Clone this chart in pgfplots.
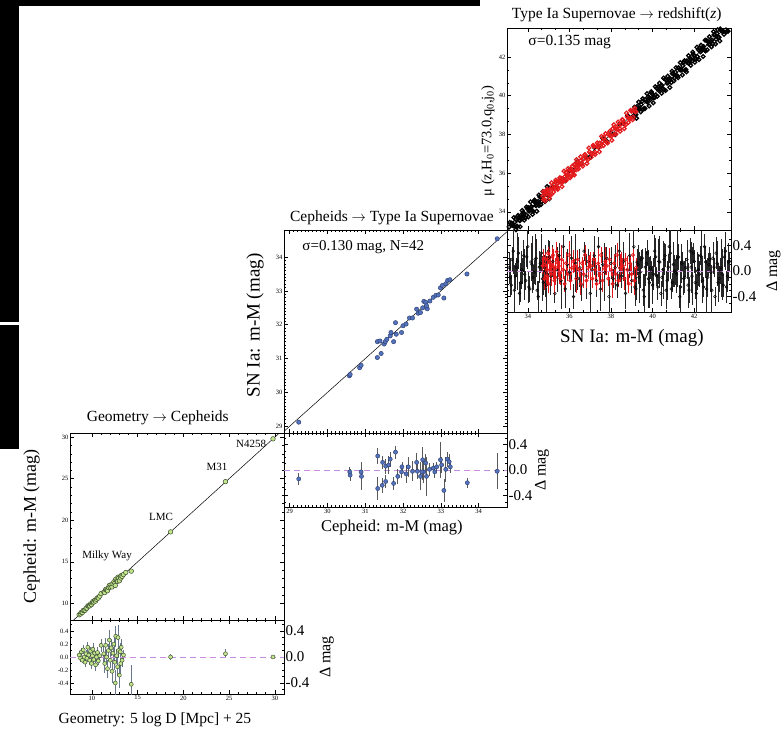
\documentclass[border=0pt]{standalone}
\usepackage{pgfplots}
\usepackage{pgfplotstable}
\pgfplotsset{compat=1.18}
\usepackage{fontspec}
\setmainfont{Liberation Serif}

\definecolor{grfill}{HTML}{C2E68C}
\definecolor{grline}{HTML}{3A4A2E}
\definecolor{grerr}{HTML}{66788A}
\definecolor{blfill}{HTML}{5272BC}
\definecolor{blline}{HTML}{2C3C6C}
\definecolor{snred}{HTML}{E3191B}
\definecolor{dashv}{HTML}{C98BDB}

\newcommand{\fs}[1]{\fontsize{#1}{#1}\selectfont}

\pgfplotsset{
  base/.style={
    scale only axis, anchor=south west,
    axis line style={line width=0.8pt},
    tick style={black, line width=0.5pt},
    major tick length=4pt, minor tick length=2.2pt,
    tick align=inside,
    xtick pos=both, ytick pos=both,
    ticklabel style={font=\fs{6.5}, inner sep=1.5pt},
    /pgf/number format/assume math mode=true,
  },
  resid/.style={
    ytick={-0.4,0,0.4},
    minor ytick={-0.5,-0.3,-0.2,-0.1,0.1,0.2,0.3,0.5},
    yticklabel pos=right,
    ylabel={Δ mag},
    yticklabel style={font=\fs{15}, /pgf/number format/.cd, fixed, fixed zerofill, precision=1},
  },
}

% ---------------- Panel 1: Geometry -> Cepheids ----------------
\pgfplotstableread{
x y
8.60 8.63
8.75 8.73
8.85 8.93
8.95 8.90
9.05 9.16
9.15 9.15
9.25 9.17
9.35 9.40
9.45 9.43
9.55 9.70
9.65 9.68
9.75 9.70
9.85 9.94
9.95 9.85
10.05 10.07
10.10 10.22
10.20 10.16
10.30 10.36
10.40 10.28
10.50 10.50
10.60 10.67
10.70 10.64
10.85 10.87
11.00 11.18
11.30 11.35
11.40 11.30
11.50 11.68
11.60 11.60
11.70 11.52
11.80 11.90
11.90 12.16
12.00 11.95
12.10 12.24
12.20 11.98
12.30 12.36
12.40 12.60
12.50 12.42
12.55 12.15
12.60 12.92
12.70 12.72
12.80 12.65
12.85 13.15
12.90 13.00
13.00 12.72
13.10 13.18
13.15 13.05
13.20 13.35
13.30 13.25
13.45 13.48
13.70 13.72
14.30 13.88
18.60 18.60
24.60 24.65
29.80 29.80
}\gmain

\pgfplotstableread{
x r e
8.60 0.03 0.04
8.75 -0.02 0.05
8.85 0.08 0.06
8.95 -0.05 0.05
9.05 0.11 0.07
9.15 0.00 0.05
9.25 -0.08 0.08
9.35 0.05 0.06
9.45 -0.02 0.05
9.55 0.15 0.08
9.65 0.03 0.06
9.75 -0.05 0.07
9.85 0.09 0.06
9.95 -0.10 0.08
10.05 0.02 0.05
10.10 0.12 0.09
10.20 -0.04 0.06
10.30 0.06 0.07
10.40 -0.12 0.09
10.50 0.00 0.06
10.60 0.07 0.08
10.70 -0.06 0.07
10.85 0.02 0.06
11.00 0.18 0.10
11.30 0.05 0.12
11.40 -0.10 0.15
11.50 0.18 0.12
11.60 0.00 0.10
11.70 -0.18 0.14
11.80 0.10 0.10
11.90 0.26 0.15
12.00 -0.05 0.12
12.10 0.14 0.13
12.20 -0.22 0.18
12.30 0.06 0.10
12.40 0.20 0.14
12.50 -0.08 0.12
12.55 -0.40 0.20
12.60 0.32 0.16
12.70 0.02 0.10
12.80 -0.15 0.15
12.85 0.30 0.20
12.90 0.10 0.12
13.00 -0.28 0.20
13.10 0.08 0.14
13.15 -0.10 0.16
13.20 0.15 0.12
13.30 -0.05 0.10
13.45 0.03 0.08
14.30 -0.42 0.30
18.60 0.00 0.04
24.60 0.05 0.07
29.80 0.00 0.03
}\gres

% ---------------- Panel 2: Cepheids -> SN Ia ----------------
\pgfplotstableread{
x y
29.24 29.12
30.58 30.49
30.60 30.53
30.85 30.73
30.89 30.80
31.32 31.03
31.42 31.15
31.32 31.50
31.39 31.52
31.50 31.43
31.53 31.50
31.57 31.57
31.66 31.67
31.68 31.77
31.75 31.50
31.82 31.72
31.80 32.06
32.00 31.97
32.08 32.02
32.17 32.20
32.25 32.20
32.36 32.46
32.40 32.34
32.46 32.36
32.52 32.50
32.55 32.69
32.60 32.66
32.64 32.47
32.62 32.56
32.80 32.81
32.87 32.87
32.93 32.88
32.99 33.09
33.04 33.16
33.08 32.79
33.13 33.21
33.18 33.31
33.24 33.33
33.69 33.50
34.49 34.54
32.71 32.70
31.96 31.77
}\bmain

\pgfplotstableread{
x r e
29.24 -0.14 0.10
30.59 -0.03 0.08
30.60 -0.08 0.10
30.89 -0.03 0.10
30.90 -0.10 0.22
31.33 0.22 0.12
31.33 -0.29 0.18
31.45 -0.24 0.12
31.46 0.12 0.10
31.54 0.06 0.12
31.54 -0.18 0.10
31.62 0.08 0.14
31.66 0.17 0.12
31.75 -0.21 0.10
31.80 0.28 0.10
31.86 -0.10 0.12
31.97 0.05 0.08
32.08 -0.06 0.14
32.14 0.05 0.16
32.25 -0.02 0.16
32.36 0.12 0.14
32.38 -0.02 0.12
32.46 -0.10 0.22
32.52 0.16 0.20
32.55 -0.03 0.18
32.60 0.11 0.14
32.62 -0.10 0.30
32.80 0.03 0.08
32.84 -0.03 0.10
32.89 0.05 0.08
32.99 0.16 0.28
33.02 0.08 0.12
33.08 -0.32 0.18
33.13 0.01 0.20
33.17 0.17 0.12
33.22 0.13 0.12
33.25 0.05 0.10
33.70 -0.20 0.08
34.49 -0.02 0.28
32.50 -0.03 0.12
32.70 0.01 0.10
31.96 -0.03 0.10
}\bres

% ---------------- Panel 3: SN Ia -> redshift ----------------
\pgfplotstableread{
x y
33.10 33.22
33.18 33.00
33.26 33.31
33.34 33.27
33.42 33.64
33.50 33.25
33.58 33.58
33.66 33.81
33.74 33.64
33.82 33.90
33.90 33.70
33.98 34.16
34.06 34.03
34.14 34.24
34.22 34.07
34.30 34.55
34.38 34.33
34.46 34.48
34.54 34.32
34.62 34.76
34.70 34.82
34.78 34.60
34.86 34.91
34.94 34.87
35.02 35.24
33.14 33.02
33.22 33.42
33.30 33.28
33.38 33.47
33.46 33.22
33.54 33.70
33.62 33.54
33.70 33.73
33.78 33.97
33.86 33.72
33.94 33.82
34.02 34.22
34.10 34.08
34.18 34.27
34.26 34.02
34.34 34.50
34.42 34.34
34.50 34.53
34.58 34.77
34.66 34.52
34.74 34.62
34.82 35.02
35.20 35.30
35.40 35.25
35.60 35.65
35.80 35.60
36.00 36.15
36.20 36.12
36.40 36.62
36.60 36.48
36.80 36.84
37.00 36.82
37.20 37.32
37.40 37.35
37.60 37.80
37.80 37.65
38.00 38.08
38.20 37.98
38.40 38.54
38.60 38.58
38.80 38.98
39.00 38.88
39.10 39.22
39.20 39.02
39.30 39.35
39.40 39.33
39.50 39.72
39.60 39.35
39.70 39.70
39.80 39.95
39.90 39.80
40.00 40.08
40.10 39.90
40.20 40.38
40.30 40.27
40.40 40.50
40.50 40.35
40.60 40.85
40.70 40.65
40.80 40.82
40.90 40.68
41.00 41.14
41.10 41.22
41.20 41.02
41.30 41.35
41.40 41.33
41.50 41.72
41.60 41.35
41.70 41.70
41.80 41.95
41.90 41.80
42.00 42.08
42.10 41.90
42.20 42.38
42.30 42.27
42.40 42.50
42.50 42.35
42.60 42.85
42.70 42.65
42.80 42.82
42.90 42.68
43.00 43.14
43.10 43.22
43.20 43.02
43.30 43.35
43.40 43.33
43.50 43.72
43.60 43.35
43.70 43.70
39.15 39.03
39.25 39.45
39.35 39.33
39.45 39.54
39.55 39.31
39.65 39.81
39.75 39.67
39.85 39.88
39.95 40.14
40.05 39.91
40.15 40.03
40.25 40.45
40.35 40.33
40.45 40.54
40.55 40.31
40.65 40.81
40.75 40.67
40.85 40.88
40.95 41.14
41.05 40.91
41.15 41.03
41.25 41.45
41.35 41.33
41.45 41.54
41.55 41.31
41.65 41.81
41.75 41.67
41.85 41.88
41.95 42.14
42.05 41.91
42.15 42.03
42.25 42.45
42.35 42.33
42.45 42.54
42.55 42.31
42.65 42.81
42.75 42.67
42.85 42.88
42.95 43.14
43.05 42.91
43.15 43.03
43.25 43.45
43.35 43.33
43.45 43.54
43.55 43.31
43.65 43.81
33.13 33.45
33.23 32.93
33.33 33.71
33.43 33.07
33.53 33.81
33.63 33.23
33.73 34.07
33.83 33.57
33.93 34.25
34.03 33.73
34.13 34.51
34.23 33.87
34.33 34.61
34.43 34.03
34.53 34.87
34.63 34.37
34.73 35.05
34.83 34.53
34.93 35.31
35.03 34.67
39.13 39.41
39.23 38.83
39.33 39.67
39.43 39.17
39.53 39.85
39.63 39.33
39.73 40.11
39.83 39.47
39.93 40.21
40.03 39.63
40.13 40.47
40.23 39.97
40.33 40.65
40.43 40.13
40.53 40.91
40.63 40.27
40.73 41.01
40.83 40.43
40.93 41.27
41.03 40.77
41.13 41.45
41.23 40.93
41.33 41.71
41.43 41.07
41.53 41.81
41.63 41.23
41.73 42.07
41.83 41.57
41.93 42.25
42.03 41.73
42.13 42.51
42.23 41.87
42.33 42.61
42.43 42.03
42.53 42.87
42.63 42.37
42.73 43.05
42.83 42.53
42.93 43.31
43.03 42.67
43.13 43.41
43.23 42.83
43.33 43.67
43.43 43.17
43.53 43.85
43.63 43.33
}\kmain

\pgfplotstableread{
x y
34.72 34.82
34.79 34.65
34.86 34.90
34.93 35.11
35.00 34.94
35.07 34.87
35.14 35.27
35.21 35.21
35.28 35.18
35.35 35.56
35.42 35.26
35.49 35.56
35.56 35.53
35.63 35.73
35.70 35.56
35.77 35.81
35.84 36.02
35.91 35.85
35.98 35.78
36.05 36.18
36.12 36.12
36.19 36.09
36.26 36.47
36.33 36.17
36.40 36.47
36.47 36.44
36.54 36.64
36.61 36.47
36.68 36.72
36.75 36.93
36.82 36.76
36.89 36.69
36.96 37.09
37.03 37.03
37.10 37.00
37.17 37.38
37.24 37.08
37.31 37.38
37.38 37.35
37.45 37.55
37.52 37.38
37.59 37.63
37.66 37.84
37.73 37.67
37.80 37.60
37.87 38.00
37.94 37.94
38.01 37.91
38.08 38.29
38.15 37.99
38.22 38.29
38.29 38.26
38.36 38.46
38.43 38.29
38.50 38.54
38.57 38.75
38.64 38.58
38.71 38.51
38.78 38.91
38.85 38.85
38.92 38.82
38.99 39.20
39.06 38.90
39.13 39.20
39.20 39.17
34.75 34.63
34.85 35.05
34.95 34.93
35.05 35.14
35.15 34.91
35.25 35.41
35.35 35.27
35.45 35.48
35.55 35.74
35.65 35.51
35.75 35.63
35.85 36.05
35.95 35.93
36.05 36.14
36.15 35.91
36.25 36.41
36.35 36.27
36.45 36.48
34.74 35.04
34.84 34.56
34.94 35.16
35.04 34.70
35.14 35.50
35.24 35.02
35.34 35.64
35.44 35.16
35.54 35.76
35.64 35.30
35.74 36.10
35.84 35.62
35.94 36.24
36.04 35.76
36.14 36.36
36.24 35.90
36.34 36.70
36.44 36.22
36.54 36.84
36.64 36.36
36.74 36.96
36.84 36.50
36.94 37.30
37.04 36.82
37.14 37.44
37.24 36.96
37.34 37.56
37.44 37.10
37.54 37.90
37.64 37.42
37.74 38.04
37.84 37.56
37.94 38.16
38.04 37.70
38.14 38.50
38.24 38.02
38.34 38.64
38.44 38.16
38.54 38.76
38.64 38.30
38.74 39.10
38.84 38.62
38.94 39.24
39.04 38.76
39.14 39.36
}\rmain

\pgfplotstableread{
x r e
33.1 0.05 0.25
33.2 -0.22 0.15
33.3 0.31 0.35
33.4 -0.08 0.20
33.5 0.15 0.45
33.6 -0.35 0.18
33.7 0.02 0.30
33.8 0.24 0.25
33.9 -0.15 0.15
34.0 0.38 0.35
34.1 -0.28 0.20
34.2 0.10 0.45
34.3 -0.02 0.18
34.4 0.20 0.30
34.5 -0.40 0.25
34.6 0.12 0.15
34.7 -0.12 0.35
34.8 0.05 0.20
34.9 -0.22 0.45
35.0 0.31 0.18
35.1 -0.08 0.30
35.2 0.15 0.25
35.3 -0.35 0.15
35.4 0.02 0.35
35.5 0.24 0.20
35.6 -0.15 0.45
35.7 0.38 0.18
35.8 -0.28 0.30
35.9 0.10 0.25
36.0 -0.02 0.15
36.1 0.20 0.35
36.2 -0.40 0.20
36.3 0.12 0.45
36.4 -0.12 0.18
36.5 0.05 0.30
36.6 -0.22 0.25
36.7 0.31 0.15
36.8 -0.08 0.35
36.9 0.15 0.20
37.0 -0.35 0.45
37.1 0.02 0.18
37.2 0.24 0.30
37.3 -0.15 0.25
37.4 0.38 0.15
37.5 -0.28 0.35
37.6 0.10 0.20
37.7 -0.02 0.45
37.8 0.20 0.18
37.9 -0.40 0.30
38.0 0.12 0.25
38.1 -0.12 0.15
38.2 0.05 0.35
38.3 -0.22 0.20
38.4 0.31 0.45
38.5 -0.08 0.18
38.6 0.15 0.30
38.7 -0.35 0.25
38.8 0.02 0.15
38.9 0.24 0.35
39.0 -0.15 0.20
39.1 0.38 0.45
39.2 -0.28 0.18
39.3 0.10 0.30
39.4 -0.02 0.25
39.5 0.20 0.15
39.6 -0.40 0.35
39.7 0.12 0.20
39.8 -0.12 0.45
39.9 0.05 0.18
40.0 -0.22 0.30
40.1 0.31 0.25
40.2 -0.08 0.15
40.3 0.15 0.35
40.4 -0.35 0.20
40.5 0.02 0.45
40.6 0.24 0.18
40.7 -0.15 0.30
40.8 0.38 0.25
40.9 -0.28 0.15
41.0 0.10 0.35
41.1 -0.02 0.20
41.2 0.20 0.45
41.3 -0.40 0.18
41.4 0.12 0.30
41.5 -0.12 0.25
41.6 0.05 0.15
41.7 -0.22 0.35
41.8 0.31 0.20
41.9 -0.08 0.45
42.0 0.15 0.18
42.1 -0.35 0.30
42.2 0.02 0.25
42.3 0.24 0.15
42.4 -0.15 0.35
42.5 0.38 0.20
42.6 -0.28 0.45
42.7 0.10 0.18
42.8 -0.02 0.30
42.9 0.20 0.25
43.0 -0.40 0.15
43.1 0.12 0.35
43.2 -0.12 0.20
43.3 0.05 0.45
43.4 -0.22 0.18
43.5 0.31 0.30
43.6 -0.08 0.25
43.7 0.15 0.15
33.15 -0.10 0.30
33.25 0.18 0.20
33.35 -0.30 0.40
33.45 0.06 0.15
33.55 0.28 0.25
33.65 -0.18 0.30
33.75 0.00 0.20
33.85 -0.05 0.40
33.95 0.22 0.15
34.05 -0.25 0.25
34.15 0.14 0.30
34.25 -0.10 0.20
34.35 0.18 0.40
34.45 -0.30 0.15
34.55 0.06 0.25
34.65 0.28 0.30
34.75 -0.18 0.20
34.85 0.00 0.40
34.95 -0.05 0.15
35.05 0.22 0.25
39.15 -0.25 0.30
39.25 0.14 0.20
39.35 -0.10 0.40
39.45 0.18 0.15
39.55 -0.30 0.25
39.65 0.06 0.30
39.75 0.28 0.20
39.85 -0.18 0.40
39.95 0.00 0.15
40.05 -0.05 0.25
40.15 0.22 0.30
40.25 -0.25 0.20
40.35 0.14 0.40
40.45 -0.10 0.15
40.55 0.18 0.25
40.65 -0.30 0.30
40.75 0.06 0.20
40.85 0.28 0.40
40.95 -0.18 0.15
41.05 0.00 0.25
41.15 -0.05 0.30
41.25 0.22 0.20
41.35 -0.25 0.40
41.45 0.14 0.15
41.55 -0.10 0.25
41.65 0.18 0.30
41.75 -0.30 0.20
41.85 0.06 0.40
41.95 0.28 0.15
42.05 -0.18 0.25
42.15 0.00 0.30
42.25 -0.05 0.20
42.35 0.22 0.40
42.45 -0.25 0.15
42.55 0.14 0.25
42.65 -0.10 0.30
42.75 0.18 0.20
42.85 -0.30 0.40
42.95 0.06 0.15
43.05 0.28 0.25
43.15 -0.18 0.30
43.25 0.00 0.20
43.35 -0.05 0.40
43.45 0.22 0.15
43.55 -0.25 0.25
43.65 0.14 0.30
}\kres

\pgfplotstableread{
x r e
34.72 0.08 0.12
34.79 -0.12 0.18
34.86 0.18 0.10
34.93 0.02 0.22
35.00 -0.20 0.15
35.07 0.12 0.12
35.14 -0.05 0.18
35.21 0.25 0.10
35.28 -0.15 0.22
35.35 0.05 0.15
35.42 0.15 0.12
35.49 0.08 0.18
35.56 -0.12 0.10
35.63 0.18 0.22
35.70 0.02 0.15
35.77 -0.20 0.12
35.84 0.12 0.18
35.91 -0.05 0.10
35.98 0.25 0.22
36.05 -0.15 0.15
36.12 0.05 0.12
36.19 0.15 0.18
36.26 0.08 0.10
36.33 -0.12 0.22
36.40 0.18 0.15
36.47 0.02 0.12
36.54 -0.20 0.18
36.61 0.12 0.10
36.68 -0.05 0.22
36.75 0.25 0.15
36.82 -0.15 0.12
36.89 0.05 0.18
36.96 0.15 0.10
37.03 0.08 0.22
37.10 -0.12 0.15
37.17 0.18 0.12
37.24 0.02 0.18
37.31 -0.20 0.10
37.38 0.12 0.22
37.45 -0.05 0.15
37.52 0.25 0.12
37.59 -0.15 0.18
37.66 0.05 0.10
37.73 0.15 0.22
37.80 0.08 0.15
37.87 -0.12 0.12
37.94 0.18 0.18
38.01 0.02 0.10
38.08 -0.20 0.22
38.15 0.12 0.15
38.22 -0.05 0.12
38.29 0.25 0.18
38.36 -0.15 0.10
38.43 0.05 0.22
38.50 0.15 0.15
38.57 0.08 0.12
38.64 -0.12 0.18
38.71 0.18 0.10
38.78 0.02 0.22
38.85 -0.20 0.15
38.92 0.12 0.12
38.99 -0.05 0.18
39.06 0.25 0.10
39.13 -0.15 0.22
39.20 0.05 0.15
34.76 0.20 0.15
34.83 0.10 0.12
34.90 -0.08 0.18
34.97 0.28 0.10
35.04 0.15 0.20
35.11 0.00 0.12
35.18 0.22 0.15
35.25 0.06 0.18
35.32 -0.10 0.12
35.39 0.30 0.15
35.46 0.12 0.10
35.53 -0.02 0.18
}\rres

\begin{document}
\begin{tikzpicture}
\path[use as bounding box] (0pt,0pt) rectangle (782pt,-730pt);

% ================= Panel 1 main =================
\begin{axis}[base, at={(70pt,-620pt)}, width=214pt, height=187pt,
  xmin=7.6, xmax=31, ymin=8, ymax=30.5,
  xtick={10,15,20,25,30}, ytick={10,15,20,25,30}, minor tick num=4,
  xticklabels={},
  title={Geometry $\rightarrow$ Cepheids},
  every axis title/.style={at={(axis description cs:0.41,1)}, anchor=center, yshift=15pt, font=\fs{15.5}},
  ylabel={Cepheid: m-M (mag)},
  every axis y label/.style={at={(axis description cs:-0.18,0.5)}, rotate=90, anchor=center, font=\fs{18}},
]
\addplot[black, line width=0.5pt] coordinates {(7,7) (32,32)};
\addplot[only marks, mark=*, mark size=2.3pt, mark options={fill=grfill, draw=grline, line width=0.5pt}] table[x=x, y=y] {\gmain};
\node[font=\fs{11}] at (axis description cs:0.173,0.342) {Milky Way};
\node[font=\fs{11}] at (axis description cs:0.425,0.551) {LMC};
\node[font=\fs{11}] at (axis description cs:0.687,0.818) {M31};
\node[font=\fs{11}] at (axis description cs:0.846,0.941) {N4258};
\end{axis}

% ================= Panel 1 residual =================
\begin{axis}[base, resid, at={(70pt,-694pt)}, width=214pt, height=74pt,
  xmin=7.6, xmax=31, ymin=-0.57, ymax=0.57,
  xtick={10,15,20,25,30}, minor x tick num=4,
  xlabel={Geometry: 5 log D [Mpc] + 25},
  every axis x label/.style={at={(axis description cs:0.397,-0.35)}, anchor=center, font=\fs{15.5}},
  every axis y label/.style={at={(axis description cs:1.20,0.5)}, rotate=90, anchor=center, font=\fs{16}},
]
\addplot[only marks, mark=*, mark size=2pt, mark options={fill=grfill, draw=grline, line width=0.45pt},
  error bars/.cd, y dir=both, y explicit, error bar style={grerr, line width=0.7pt}, error mark=none]
  table[x=x, y=r, y error=e] {\gres};
\addplot[dashv, line width=0.8pt, dash pattern=on 6pt off 4pt] coordinates {(7.6,0) (31,0)};
\end{axis}
% left small labels of panel 1 residual
\begin{axis}[base, at={(70pt,-694pt)}, width=214pt, height=74pt,
  xmin=7.6, xmax=31, ymin=-0.57, ymax=0.57,
  axis line style={draw=none}, xtick=\empty, major tick length=0pt,
  ytick={-0.4,-0.2,0,0.2,0.4}, yticklabel pos=left,
  yticklabel style={font=\fs{6.5}, /pgf/number format/.cd, fixed, fixed zerofill, precision=1},
]
\end{axis}

% ================= Panel 2 main =================
\begin{axis}[base, at={(284pt,-433pt)}, width=223pt, height=203pt,
  xmin=28.85, xmax=34.75, ymin=28.8, ymax=34.8,
  xtick={29,...,34}, ytick={29,...,34}, minor tick num=9,
  xticklabels={},
  title={Cepheids $\rightarrow$ Type Ia Supernovae},
  every axis title/.style={at={(axis description cs:0.484,1)}, anchor=center, yshift=12pt, font=\fs{15.5}},
  ylabel={SN Ia: m-M (mag)},
  every axis y label/.style={at={(axis description cs:-0.13,0.53)}, rotate=90, anchor=center, font=\fs{19}},
]
\addplot[black, line width=0.5pt] coordinates {(28,28) (35,35)};
\addplot[only marks, mark=*, mark size=2.2pt, mark options={fill=blfill, draw=blline, line width=0.4pt}] table[x=x, y=y] {\bmain};
\node[font=\fs{15}, anchor=west] at (axis description cs:0.067,0.916) {σ=0.130 mag, N=42};
\end{axis}

% ================= Panel 2 residual =================
\begin{axis}[base, resid, at={(284pt,-507pt)}, width=223pt, height=74pt,
  xmin=28.85, xmax=34.75, ymin=-0.58, ymax=0.58,
  xtick={29,...,34}, minor x tick num=9,
  xlabel={Cepheid: m-M (mag)},
  every axis x label/.style={at={(axis description cs:0.484,-0.28)}, anchor=center, font=\fs{16.5}},
  every axis y label/.style={at={(axis description cs:1.157,0.5)}, rotate=90, anchor=center, font=\fs{16}},
]
\addplot[dashv, line width=0.8pt, dash pattern=on 6pt off 4pt] coordinates {(28.85,0) (34.75,0)};
\addplot[only marks, mark=*, mark size=2.1pt, mark options={fill=blfill, draw=blline, line width=0.4pt},
  error bars/.cd, y dir=both, y explicit, error bar style={black!65, line width=0.7pt}, error mark=none]
  table[x=x, y=r, y error=e] {\bres};
\end{axis}

% ================= Panel 3 main =================
\begin{axis}[base, at={(507pt,-230pt)}, width=224pt, height=202pt,
  xmin=33.0, xmax=43.77, ymin=33.06, ymax=43.5,
  xtick={34,36,...,42}, ytick={34,36,...,42}, minor tick num=2,
  xticklabels={},
  title={Type Ia Supernovae $\rightarrow$ redshift(\textit{z})},
  every axis title/.style={at={(axis description cs:0.49,1)}, anchor=center, yshift=13pt, font=\fs{15.5}},
  ylabel={μ (z,H\textsubscript{0}=73.0,q\textsubscript{0},j\textsubscript{0})},
  every axis y label/.style={at={(axis description cs:-0.085,0.44)}, rotate=90, anchor=center, font=\fs{14.5}},
]
\addplot[black, line width=0.5pt] coordinates {(33,33) (44,44)};
\addplot[only marks, mark=o, mark size=1.9pt, black, line width=1.25pt] table[x=x, y=y] {\kmain};
\addplot[only marks, mark=o, mark size=1.9pt, snred, line width=1.2pt] table[x=x, y=y] {\rmain};
\node[font=\fs{15.5}, anchor=west] at (axis description cs:0.08,0.93) {σ=0.135 mag};
\end{axis}

% ================= Panel 3 residual =================
\begin{axis}[base, resid, at={(507pt,-312pt)}, width=224pt, height=82pt,
  xmin=33.0, xmax=43.77, ymin=-0.64, ymax=0.64,
  xtick={34,36,...,42}, minor x tick num=2,
  xlabel={SN Ia: m-M (mag)},
  every axis x label/.style={at={(axis description cs:0.558,-0.317)}, anchor=center, font=\fs{19}},
  every axis y label/.style={at={(axis description cs:1.19,0.5)}, rotate=90, anchor=center, font=\fs{16}},
]
\addplot[only marks, mark=o, mark size=1.4pt, black, line width=0.5pt,
  error bars/.cd, y dir=both, y explicit, error bar style={black!85, line width=0.8pt}, error mark=none]
  table[x=x, y=r, y error=e] {\kres};
\addplot[only marks, mark=o, mark size=1.6pt, snred, line width=0.8pt,
  error bars/.cd, y dir=both, y explicit, error bar style={snred, line width=0.8pt}, error mark=none]
  table[x=x, y=r, y error=e] {\rres};
\addplot[dashv, line width=0.9pt, dash pattern=on 6pt off 4pt] coordinates {(33,0) (43.77,0)};
\end{axis}

% black frame remnants of the screenshot
\fill[black] (0pt,0pt) rectangle (480pt,-6pt);
\fill[black] (0pt,0pt) rectangle (19pt,-322pt);
\fill[black] (0pt,-325pt) rectangle (19pt,-449pt);
\end{tikzpicture}
\end{document}
